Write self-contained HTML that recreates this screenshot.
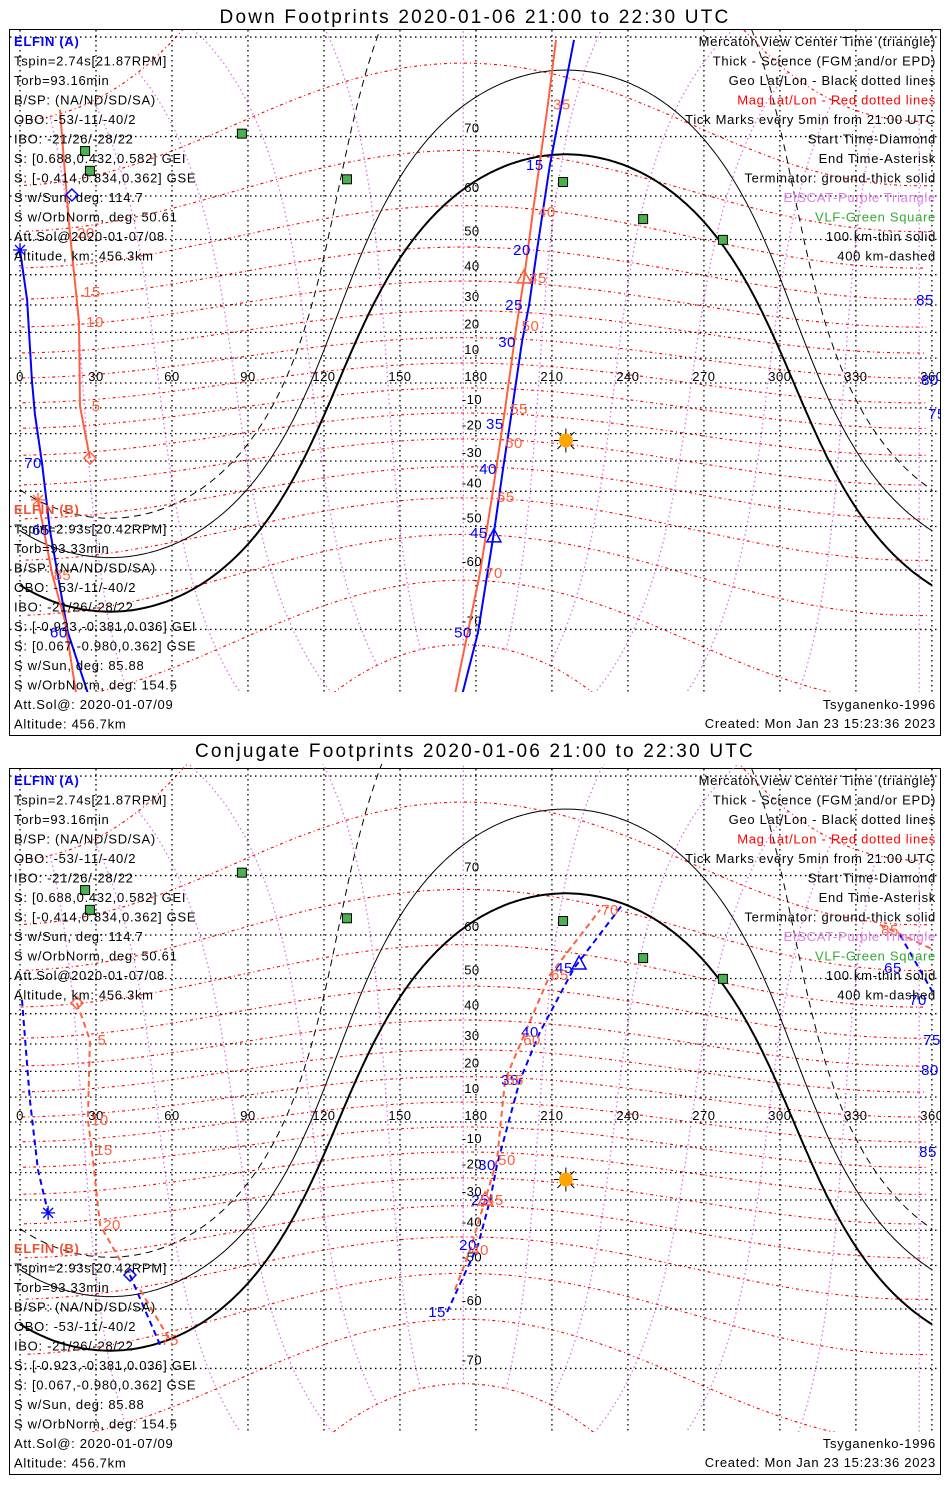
<!DOCTYPE html>
<html><head><meta charset="utf-8">
<style>
html,body{margin:0;padding:0;background:#fff;}
svg{display:block;font-family:"Liberation Sans",sans-serif;}
</style></head>
<body>
<svg id="chart" width="950" height="1500" viewBox="0 0 950 1500" xmlns="http://www.w3.org/2000/svg">
<rect x="0" y="0" width="950" height="1500" fill="#fff"/>
<text x="475" y="23" font-size="19" letter-spacing="2.2" text-anchor="middle" fill="#000">Down Footprints 2020-01-06 21:00 to 22:30 UTC</text>
<text x="475" y="757" font-size="19" letter-spacing="2.2" text-anchor="middle" fill="#000">Conjugate Footprints 2020-01-06 21:00 to 22:30 UTC</text>
<defs>
<clipPath id="clipTop"><rect x="10" y="30" width="930" height="662"/></clipPath>
<clipPath id="clipBot"><rect x="10" y="764" width="930" height="668"/></clipPath>
</defs>
<g id="panels"></g>
</svg>
<script>
// ---- data (lon/lat in degrees) ----
const subsolarLon = 215.5;
const subsolarLat = -22.6;
const terminatorZenith = [90, 100, 109.6];
const dipoleLat = 82;
const dipoleLon = 355;
const vlfLon = [87.6, 25.7, 27.6, 129.1, 214.4, 246.0, 277.5];
const vlfLat = [70.4, 67.9, 64.7, 63.2, 62.7, 55.0, 49.9];
const lonTicks = [0,30,60,90,120,150,180,210,240,270,300,330,360];
const latTicks = [70,60,50,40,30,20,10,-10,-20,-30,-40,-50,-60,-70];

// Down footprints
const aTopMin = [9,15,20,25,30,35,40,45,50,53];
const aTopLon = [218.7,209.2,204.1,201.0,198.2,193.4,190.7,187.1,180.8,174.1];
const aTopLat = [79.8,65.7,47.2,30,16.4,-16.4,-32.8,-51.6,-70.4,-77.7];
const aTopLabels = [15,20,25,30,35,40,45,50];
const bTopMin = [32,35,40,45,50,55,60,65,70,74];
const bTopLon = [211.6,208.4,202.5,199.0,196.0,191.5,189.5,186.3,181.6,171.3];
const bTopLat = [79.8,74.0,56.6,39.0,22.4,-10.4,-23.6,-41.8,-60.6,-77.7];
const bTopLabels = [35,40,45,50,55,60,65,70];
const aTopLeftMin = [57,60,65,70,75,80,85,88];
const aTopLeftLon = [27.6,18.9,11.8,8.7,5.9,4.7,2.8,0];
const aTopLeftLat = [-77.7,-70.4,-50.9,-30.7,-12.4,1.2,31.8,47.2];
const aTopLeftLabels = [60,65,70];
const bTopLeftMin = [0,5,10,15,20,25,28];
const bTopLeftLon = [27.6,23.7,23.3,22.1,19.7,17.0,15.8];
const bTopLeftLat = [-29,-9.3,23.9,34.4,51.6,68.0,73.4];
const bTopLeftLabels = [5,10,15,20];
const bTopLowMin = [78,82,85,88];
const bTopLowLon = [22.5,17.7,12.8,7.1];
const bTopLowLat = [-77.7,-68.7,-61,-42.6];
const bTopLowLabels = [85];

// Conjugate footprints
const aBotMin = [15,20,25,30,35,40,45,48];
const aBotLon = [168.6,180.8,185.6,188.3,197.4,205.3,218.7,237.7];
const aBotLat = [-60.6,-44.4,-30,-17.1,16.7,34.1,52.6,65.5];
const aBotLabels = [15,20,25,30,35,40,45];
const bBotMin = [38,40,45,50,55,60,65,70];
const bBotLon = [171.7,177.7,183.6,188.3,191.5,198.2,209.2,229.0];
const bBotLat = [-55.9,-45.8,-30,-15.2,16.7,31.4,50.9,64.7];
const bBotLabels = [40,45,50,55,60,65,70];
const aBotLeftLon = [0.8,3.9,7.1,11.1];
const aBotLeftLat = [44.1,8.9,-19.0,-34.4];
const aBotLeft2Lon = [43.4,55.3];
const aBotLeft2Lat = [-52.4,-66.5];
const bBotLeftMin = [0,5,10,15,20,23];
const bBotLeftLon = [22.5,27.6,26.8,28.4,31.6,39.5];
const bBotLeftLat = [43.2,31.4,0.8,-11.3,-38.3,-48.6];
const bBotLeftLabels = [5,10,15,20];
const bBotLeft2Min = [72,75];
const bBotLeft2Lon = [47.4,59.2];
const bBotLeft2Lat = [-55.9,-65.7];
const bBotLeft2Labels = [75];
const bBotRightLon = [339.5,361];
const bBotRightLat = [62,56.8];
const aBotRightLon = [347.4,361];
const aBotRightLat = [60,45.5];

const infoA = ["Tspin=2.74s[21.87RPM]","Torb=93.16min","B/SP: (NA/ND/SD/SA)","OBO: -53/-11/-40/2","IBO: -21/26/-28/22","S: [0.688,0.432,0.582] GEI","S: [-0.414,0.834,0.362] GSE","S w/Sun, deg: 114.7","S w/OrbNorm, deg: 50.61","Att.Sol@2020-01-07/08","Altitude, km: 456.3km"];
const infoB = ["Tspin=2.93s[20.42RPM]","Torb=93.33min","B/SP: (NA/ND/SD/SA)","OBO: -53/-11/-40/2","IBO: -21/26/-28/22","S: [-0.923,-0.381,0.036] GEI","S: [0.067,-0.980,0.362] GSE","S w/Sun, deg: 85.88","S w/OrbNorm, deg: 154.5","Att.Sol@: 2020-01-07/09","Altitude: 456.7km"];
const legendText = ["Mercator View Center Time (triangle)","Thick - Science (FGM and/or EPD)","Geo Lat/Lon - Black dotted lines","Mag Lat/Lon - Red dotted lines","Tick Marks every 5min from 21:00 UTC","Start Time-Diamond","End Time-Asterisk","Terminator: ground-thick solid","EISCAT-Purple Triangle","VLF-Green Square","100 km-thin solid","400 km-dashed"];
const legendColor = ["#000","#000","#000","#f00","#000","#000","#000","#000","#e080e8","#3a3","#000","#000"];

// ---- helpers ----
const NS = "http://www.w3.org/2000/svg";
const D = Math.PI/180;
const root = document.getElementById('panels');
function xOf(lon){ return 20 + lon*2.533; }
function yOf(lat, oy){ const l = Math.max(-85, Math.min(85, lat)); return 383 + oy - 142*Math.log(Math.tan((45 + l/2)*D)); }
function mk(tag, attrs, parent){ const e = document.createElementNS(NS, tag); for (const k in attrs) e.setAttribute(k, attrs[k]); parent.appendChild(e); return e; }
function txt(parent, x, y, s, fill, size, anchor, ls){ const t = mk('text', {x:x, y:y, fill:fill, 'font-size':size||12.5, 'text-anchor':anchor||'start'}, parent); if (ls) t.setAttribute('letter-spacing', ls); t.textContent = s; return t; }
function polyD(lons, lats, oy){ let d=''; let prev=null; for (let i=0;i<lons.length;i++){ if (lats[i]===null){prev=null;continue;} const x=xOf(lons[i]), y=yOf(lats[i],oy); if (prev!==null && Math.abs(lons[i]-prev)>180) d+='M'; else d+= (prev===null?'M':'L'); d+=x.toFixed(1)+','+y.toFixed(1)+' '; prev=lons[i]; } return d; }
function magToGeo(mlat, mlon){
  const x=Math.cos(mlat*D)*Math.cos(mlon*D), y=Math.cos(mlat*D)*Math.sin(mlon*D), z=Math.sin(mlat*D);
  const th=(90-dipoleLat)*D;
  const x1=x*Math.cos(th)+z*Math.sin(th), z1=-x*Math.sin(th)+z*Math.cos(th);
  const p=dipoleLon*D;
  const x2=x1*Math.cos(p)-y*Math.sin(p), y2=x1*Math.sin(p)+y*Math.cos(p);
  let lon=Math.atan2(y2,x2)/D; if(lon<0) lon+=360;
  return [lon, Math.asin(Math.max(-1,Math.min(1,z1)))/D];
}
function terminatorLat(lon, sza){
  const A=Math.sin(subsolarLat*D), B=Math.cos(subsolarLat*D)*Math.cos((lon-subsolarLon)*D), c=Math.cos(sza*D);
  const R=Math.sqrt(A*A+B*B), phi=Math.atan2(A,B)/D, al=Math.acos(Math.max(-1,Math.min(1,c/R)))/D;
  for (const cand of [phi+al, phi-al, phi+al-360, phi-al+360, phi+al+360, phi-al-360]) if (cand>=-90 && cand<=90) return cand;
  return null;
}

function drawPanel(oy, clipId, panelName){
  const g = mk('g', {}, root);
  
  
  const frame = mk('rect', {x:9.5, y:29.5+oy, width:931, height:706, fill:'none', stroke:'#000', 'stroke-width':1}, g);
  
  
  const map = mk('g', {'clip-path':'url(#'+clipId+')'}, g);
  
  
  for (let m=-80; m<=80; m+=10){
    const lo=[], la=[];
    for (let M=0; M<=360; M+=3){ const p=magToGeo(m,M); lo.push(p[0]); la.push(p[1]); }
    const idx=lo.map((v,i)=>i).sort((a,b)=>lo[a]-lo[b]);
    const sl=idx.map(i=>lo[i]), sa=idx.map(i=>la[i]);
    const e=mk('path',{d:polyD(sl,sa,oy), fill:'none', stroke:'#f00', 'stroke-width':1.1, 'stroke-dasharray':'3,3,1,3'}, map);
    
    
  }
  for (let M=0; M<360; M+=30){
    const lo=[], la=[];
    for (let m=-80; m<=80; m+=2){ const p=magToGeo(m,M); lo.push(p[0]); la.push(p[1]); }
    const e=mk('path',{d:polyD(lo,la,oy), fill:'none', stroke:'#e070f0', 'stroke-width':1.3, 'stroke-dasharray':'1.5,3'}, map);
    
    
  }
  for (let la=-80; la<=80; la+=10){
    const y=yOf(la,oy);
    const e=mk('line',{x1:10,x2:940,y1:y,y2:y,stroke:'#000','stroke-width':1.3,'stroke-dasharray':'1.5,3.5'}, map);
    
    
  }
  for (const lo of lonTicks){
    const x=xOf(lo);
    const e=mk('line',{x1:x,x2:x,y1:30+oy,y2:740+oy,stroke:'#000','stroke-width':1.3,'stroke-dasharray':'1.5,3.5'}, map);
    
    
  }
  terminatorZenith.forEach((z, k)=>{
    const lo=[], la=[];
    for (let l=0; l<=360; l+=1){ lo.push(l); la.push(terminatorLat(l,z)); }
    const e=mk('path',{d:polyD(lo,la,oy), fill:'none', stroke:'#000', 'stroke-width': k===0?2:1, 'stroke-dasharray': k===2?'7,5':'none'}, map);
    
    
  });
  for (const la of latTicks){
    const t=txt(map, xOf(180)-4, yOf(la,oy)-4, String(la), '#000', 13, 'middle', 0.5);
    
    
  }
  for (const lo of lonTicks){
    const t=txt(map, xOf(lo), yOf(0,oy)-2, String(lo), '#000', 13, 'middle', 0.5);
    
    
  }
  for (let i=0;i<vlfLon.length;i++){
    const e=mk('rect',{x:xOf(vlfLon[i])-4.5,y:yOf(vlfLat[i],oy)-4.5,width:9,height:9,fill:'#4caf50',stroke:'#000','stroke-width':1}, map);
    
    
  }
  const sx=xOf(subsolarLon), sy=yOf(subsolarLat,oy);
  for (let a=0;a<360;a+=45){
    const r=mk('line',{x1:sx+7*Math.cos(a*D),y1:sy+7*Math.sin(a*D),x2:sx+12*Math.cos(a*D),y2:sy+12*Math.sin(a*D),stroke:'#000','stroke-width':1}, map);
    
    
  }
  const sun=mk('circle',{cx:sx,cy:sy,r:7,fill:'#ffa500'}, map);
  
  
  return map;
}

function track(map, oy, lons, lats, color, dashed, name){
  const e=mk('path',{d:polyD(lons,lats,oy), fill:'none', stroke:color, 'stroke-width':2, 'stroke-dasharray': dashed?'6,4':'none'}, map);
  
  
}
function labels(map, oy, mins, lons, lats, which, color, dx, dy){
  for (const w of which){
    const i=mins.indexOf(w); if(i<0) continue;
    const t=txt(map, xOf(lons[i])+dx, yOf(lats[i],oy)+dy, String(w), color, 15, 'middle', 0.5);
    
    
  }
}
function marker(map, oy, lon, lat, kind, color){
  const x=xOf(lon), y=yOf(lat,oy);
  let e;
  if (kind==='tri') e=mk('path',{d:`M${x},${y-8} L${x+7},${y+5} L${x-7},${y+5} Z`,fill:'none',stroke:color,'stroke-width':1.5}, map);
  else if (kind==='dia') e=mk('path',{d:`M${x},${y-6} L${x+6},${y} L${x},${y+6} L${x-6},${y} Z`,fill:'none',stroke:color,'stroke-width':1.5}, map);
  else e=mk('path',{d:`M${x-7},${y} L${x+7},${y} M${x},${y-7} L${x},${y+7} M${x-5},${y-5} L${x+5},${y+5} M${x-5},${y+5} L${x+5},${y-5}`,fill:'none',stroke:color,'stroke-width':1.3}, map);
  
  
}
function texts(oy){
  const g=mk('g',{},root);
  
  
  let t=txt(g,14,46+oy,'ELFIN (A)','#00f',13,'start',0.7); t.setAttribute('font-weight','bold');
   
  infoA.forEach((s,i)=>{ const e=txt(g,14,65.5+i*19.5+oy,s,'#000',13,'start',0.7);   });
  t=txt(g,14,514+oy,'ELFIN (B)','#f05030',13,'start',0.7); t.setAttribute('font-weight','bold');
   
  infoB.forEach((s,i)=>{ const e=txt(g,14,533.5+i*19.5+oy,s,'#000',13,'start',0.7);   });
  legendText.forEach((s,i)=>{ const e=txt(g,936,46+i*19.5+oy,s,legendColor[i],13,'end',0.7);   });
  let e=txt(g,936,709+oy,'Tsyganenko-1996','#000',13,'end',0.7);  
  e=txt(g,936,728+oy,'Created: Mon Jan 23 15:23:36 2023','#000',13,'end',0.7);  
}
function edgeLabel(map, x, y, s, color){
  const t=txt(map,x,y,s,color,15,'middle',0.5);
  
  
}

let m1 = drawPanel(0, 'clipTop', 'down-footprints-panel');
track(m1,0,bTopLon,bTopLat,'#ff6040',false,'elfin-b-track');
track(m1,0,aTopLon,aTopLat,'#0000ff',false,'elfin-a-track');
track(m1,0,aTopLeftLon,aTopLeftLat,'#0000ff',false,'elfin-a-track-wrap');
track(m1,0,bTopLeftLon,bTopLeftLat,'#ff6040',false,'elfin-b-track-start');
track(m1,0,bTopLowLon,bTopLowLat,'#ff6040',false,'elfin-b-track-end');
labels(m1,0,aTopMin,aTopLon,aTopLat,aTopLabels,'#0000ff',-15,5);
labels(m1,0,bTopMin,bTopLon,bTopLat,bTopLabels,'#ff6040',14,5);
labels(m1,0,aTopLeftMin,aTopLeftLon,aTopLeftLat,aTopLeftLabels,'#0000ff',-9,5);
labels(m1,0,bTopLeftMin,bTopLeftLon,bTopLeftLat,bTopLeftLabels,'#ff6040',16,5);
labels(m1,0,bTopLowMin,bTopLowLon,bTopLowLat,bTopLowLabels,'#ff6040',10,5);
edgeLabel(m1,925,305,'85','#0000ff'); edgeLabel(m1,930,385,'80','#0000ff'); edgeLabel(m1,937,419,'75','#0000ff');
marker(m1,0,aTopLon[7],aTopLat[7]-1,'tri','#0000ff');
marker(m1,0,bTopLon[3],bTopLat[3],'tri','#ff6040');
marker(m1,0,aTopLeftLon[7],aTopLeftLat[7],'ast','#0000ff');
marker(m1,0,bTopLowLon[3],bTopLowLat[3],'ast','#ff6040');
marker(m1,0,bTopLeftLon[0],bTopLeftLat[0],'dia','#ff6040');
marker(m1,0,20.5,60.2,'dia','#0000ff');
texts(0);

const OY = 739;
let m2 = drawPanel(OY, 'clipBot', 'conjugate-footprints-panel');
track(m2,OY,bBotLon,bBotLat,'#ff6040',true,'elfin-b-conjugate-track');
track(m2,OY,aBotLon,aBotLat,'#0000ff',true,'elfin-a-conjugate-track');
track(m2,OY,aBotLeftLon,aBotLeftLat,'#0000ff',true,'elfin-a-conjugate-wrap');
track(m2,OY,aBotLeft2Lon,aBotLeft2Lat,'#0000ff',true,'elfin-a-conjugate-start');
track(m2,OY,bBotLeftLon,bBotLeftLat,'#ff6040',true,'elfin-b-conjugate-start');
track(m2,OY,bBotLeft2Lon,bBotLeft2Lat,'#ff6040',true,'elfin-b-conjugate-mid');
track(m2,OY,bBotRightLon,bBotRightLat,'#ff6040',true,'elfin-b-conjugate-end');
track(m2,OY,aBotRightLon,aBotRightLat,'#0000ff',true,'elfin-a-conjugate-end');
labels(m2,OY,aBotMin,aBotLon,aBotLat,aBotLabels,'#0000ff',-10,5);
labels(m2,OY,bBotMin,bBotLon,bBotLat,bBotLabels,'#ff6040',10,5);
labels(m2,OY,bBotLeftMin,bBotLeftLon,bBotLeftLat,bBotLeftLabels,'#ff6040',12,5);
labels(m2,OY,bBotLeft2Min,bBotLeft2Lon,bBotLeft2Lat,bBotLeft2Labels,'#ff6040',0,5);
edgeLabel(m2,890,935,'85','#ff6040'); edgeLabel(m2,893,973,'65','#0000ff');
edgeLabel(m2,918,1005,'70','#0000ff'); edgeLabel(m2,932,1045,'75','#0000ff');
edgeLabel(m2,930,1075,'80','#0000ff'); edgeLabel(m2,928,1157,'85','#0000ff');
marker(m2,OY,aBotLon[6]+2,aBotLat[6]+1,'tri','#0000ff');
marker(m2,OY,bBotLon[2],bBotLat[2],'tri','#ff6040');
marker(m2,OY,aBotLeftLon[3],aBotLeftLat[3],'ast','#0000ff');
marker(m2,OY,aBotLeft2Lon[0],aBotLeft2Lat[0],'dia','#0000ff');
marker(m2,OY,bBotLeftLon[0],bBotLeftLat[0],'dia','#ff6040');
texts(OY);
</script>
</body></html>
